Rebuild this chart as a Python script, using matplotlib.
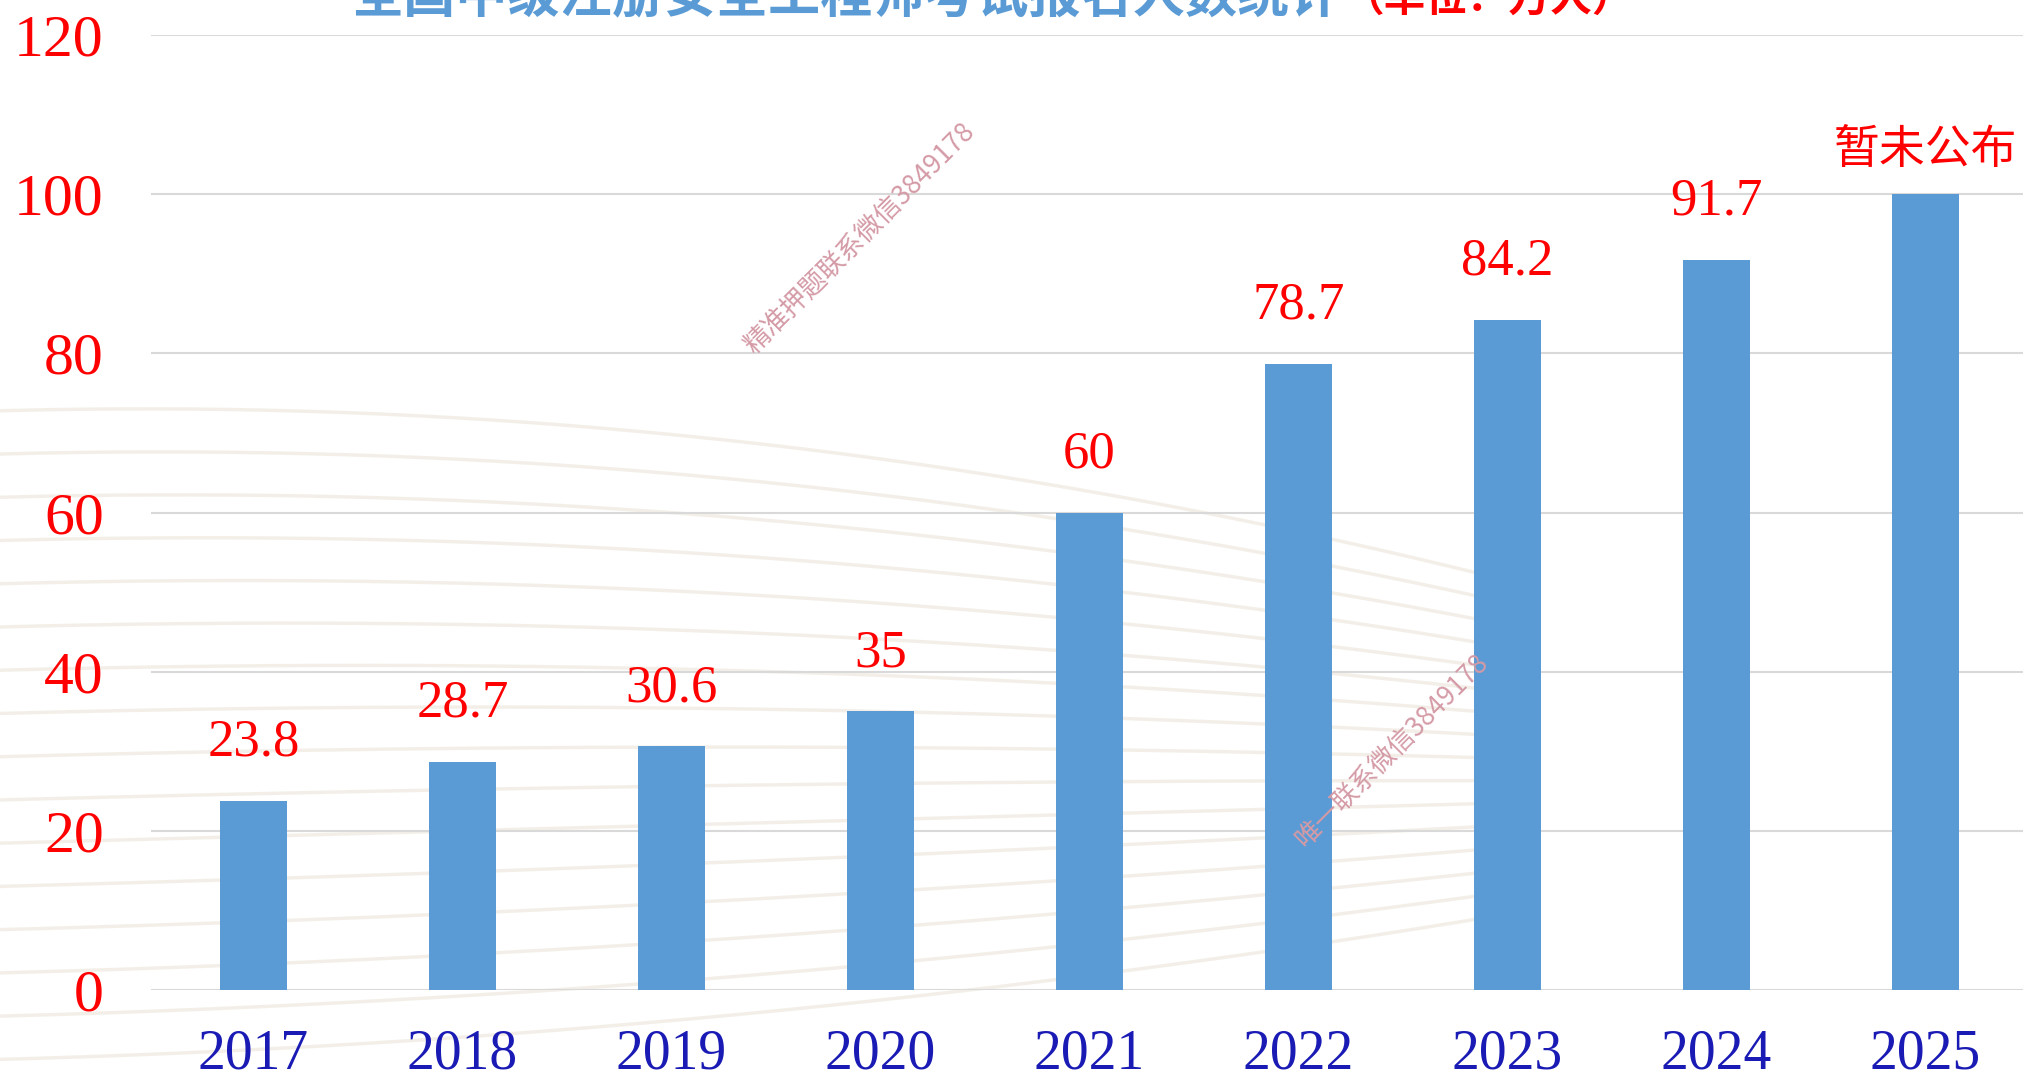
import matplotlib
matplotlib.use('Agg')
import matplotlib.pyplot as plt
import numpy as np

# 数据
years = ['2017', '2018', '2019', '2020', '2021', '2022', '2023', '2024', '2025']
values = [23.8, 28.7, 30.6, 35, 60, 78.7, 84.2, 91.7, 100]
labels = ['23.8', '28.7', '30.6', '35', '60', '78.7', '84.2', '91.7', '暂未公布']
yticks = [0, 20, 40, 60, 80, 100, 120]

title_main = '全国中级注册安全工程师考试报名人数统计'
title_unit = '（单位：万人）'
wm1 = '精准押题联系微信3849178'
wm2 = '唯一联系微信3849178'

cjk = ['Noto Sans CJK SC', 'DejaVu Sans']
serif = ['Liberation Serif', 'DejaVu Serif']

W, H = 2023, 1081
fig = plt.figure(figsize=(W / 100, H / 100), dpi=100)
fig.patch.set_facecolor('white')

# 背景的淡色弧线（装饰）
bg = fig.add_axes([0, 0, 1, 1], zorder=0)
bg.set_xlim(0, 1)
bg.set_ylim(0, 1)
bg.axis('off')
t = np.linspace(0, 0.75, 200)
for k in range(16):
    y0 = 0.62 - k * 0.04
    bend = 0.35 - k * 0.035
    bg.plot(t, y0 - bend * t ** 2 + 0.05 * t, color='#F1ECE3', lw=2.5, alpha=0.8)

ax = fig.add_axes([151 / W, 91 / H, (2034 - 151) / W, (990 - 35) / H], zorder=1)
ax.patch.set_alpha(0)

x = np.arange(len(years))
bars = ax.bar(x, values, width=0.32, color='#5B9BD5', zorder=3)

ax.set_xlim(-0.49, 8.52)
ax.set_ylim(0, 120)
ax.set_yticks(yticks)
ax.set_yticklabels([str(v) for v in yticks], family=serif, fontsize=43, color='#FF0000')
ax.set_xticks(x)
ax.set_xticklabels(years, family=serif, fontsize=40, color='#1A1AB4')
ax.tick_params(axis='y', length=0, pad=34)
ax.tick_params(axis='x', length=0, pad=28)
ax.grid(axis='y', color='#D9D9D9', lw=1.5, zorder=0)
ax.set_axisbelow(True)
for s in ax.spines.values():
    s.set_visible(False)

for xi, v, lab in zip(x, values, labels):
    if lab == '暂未公布':
        ax.annotate(lab, (xi, v), xytext=(0, 32), textcoords='offset points',
                    ha='center', va='center', fontsize=33, color='#FF0000',
                    family=cjk, zorder=5)
    else:
        ax.annotate(lab, (xi, v), xytext=(0, 42), textcoords='offset points',
                    ha='center', va='center', fontsize=38, color='#FF0000',
                    family=serif, zorder=5)

# 标题（顶端被裁切，与原图一致）
fig.text(1342 / W, 1 - 12 / H, title_main, ha='right', va='baseline',
         fontsize=37.5, fontweight='bold', color='#5B9BD5', family=cjk)
fig.text(1342 / W, 1 - 12 / H, title_unit, ha='left', va='baseline',
         fontsize=30, fontweight='bold', color='#FF0000', family=cjk)

# 水印
fig.text(860 / W, 1 - 239 / H, wm1, rotation=45, ha='center', va='center',
         fontsize=19, color='#D49AA6', family=cjk, zorder=6)
fig.text(1391 / W, 1 - 751 / H, wm2, rotation=45, ha='center', va='center',
         fontsize=19, color='#D49AA6', family=cjk, zorder=6)

fig.savefig('out.png', dpi=100)
